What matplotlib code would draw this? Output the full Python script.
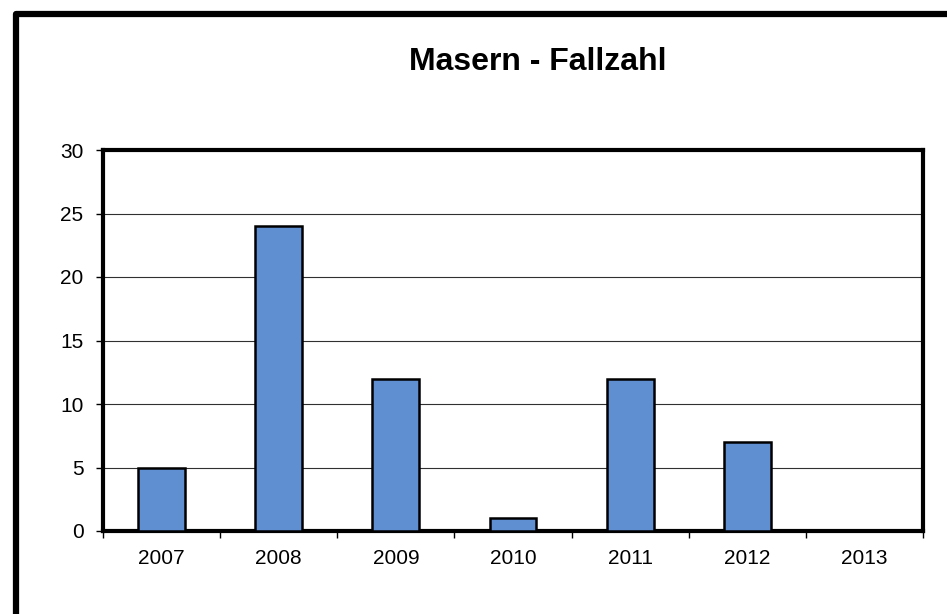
import matplotlib
matplotlib.use("Agg")
import matplotlib.pyplot as plt
from matplotlib.patches import Rectangle
import numpy as np

plt.rcParams['font.family'] = ['Liberation Sans', 'DejaVu Sans']

years = ["2007", "2008", "2009", "2010", "2011", "2012", "2013"]
cases = [5, 24, 12, 1, 12, 7, 0]
yticks = [0, 5, 10, 15, 20, 25, 30]

fig = plt.figure(figsize=(9.47, 6.14), dpi=100)
# outer frame
fig.patches.append(Rectangle((16/947, -0.1), 1.2, 1 - 14/614 + 0.1,
                             transform=fig.transFigure, fill=False,
                             edgecolor='black', linewidth=4.5, zorder=0,
                             joinstyle='round'))

ax = fig.add_axes([103/947, 1 - 531/614, 820/947, 381/614])
x = np.arange(len(years))
ax.bar(x, cases, width=0.4, color='#5f8fd1', edgecolor='black', linewidth=1.8, zorder=3)

ax.set_xlim(-0.5, len(years) - 0.5)
ax.set_ylim(0, 30)
ax.set_yticks(yticks)
ax.set_yticklabels([str(v) for v in yticks], fontsize=15)
ax.set_xticks(x)
ax.set_xticklabels(years, fontsize=15)
ax.tick_params(axis='x', which='major', length=0, pad=13)
ax.set_xticks(np.arange(-0.5, len(years)), minor=True)
ax.tick_params(axis='x', which='minor', length=5, width=1, direction='out')
ax.tick_params(axis='y', length=5, width=1, direction='out', pad=9)
ax.yaxis.grid(True, color='#303030', linewidth=0.8, zorder=0)
ax.set_axisbelow(True)
for s in ax.spines.values():
    s.set_linewidth(3)
    s.set_color('black')

fig.text(538/947, 1 - 62/614, "Masern - Fallzahl", ha='center', va='center',
         fontsize=23, fontweight='bold')

fig.savefig("out.png", dpi=100)
